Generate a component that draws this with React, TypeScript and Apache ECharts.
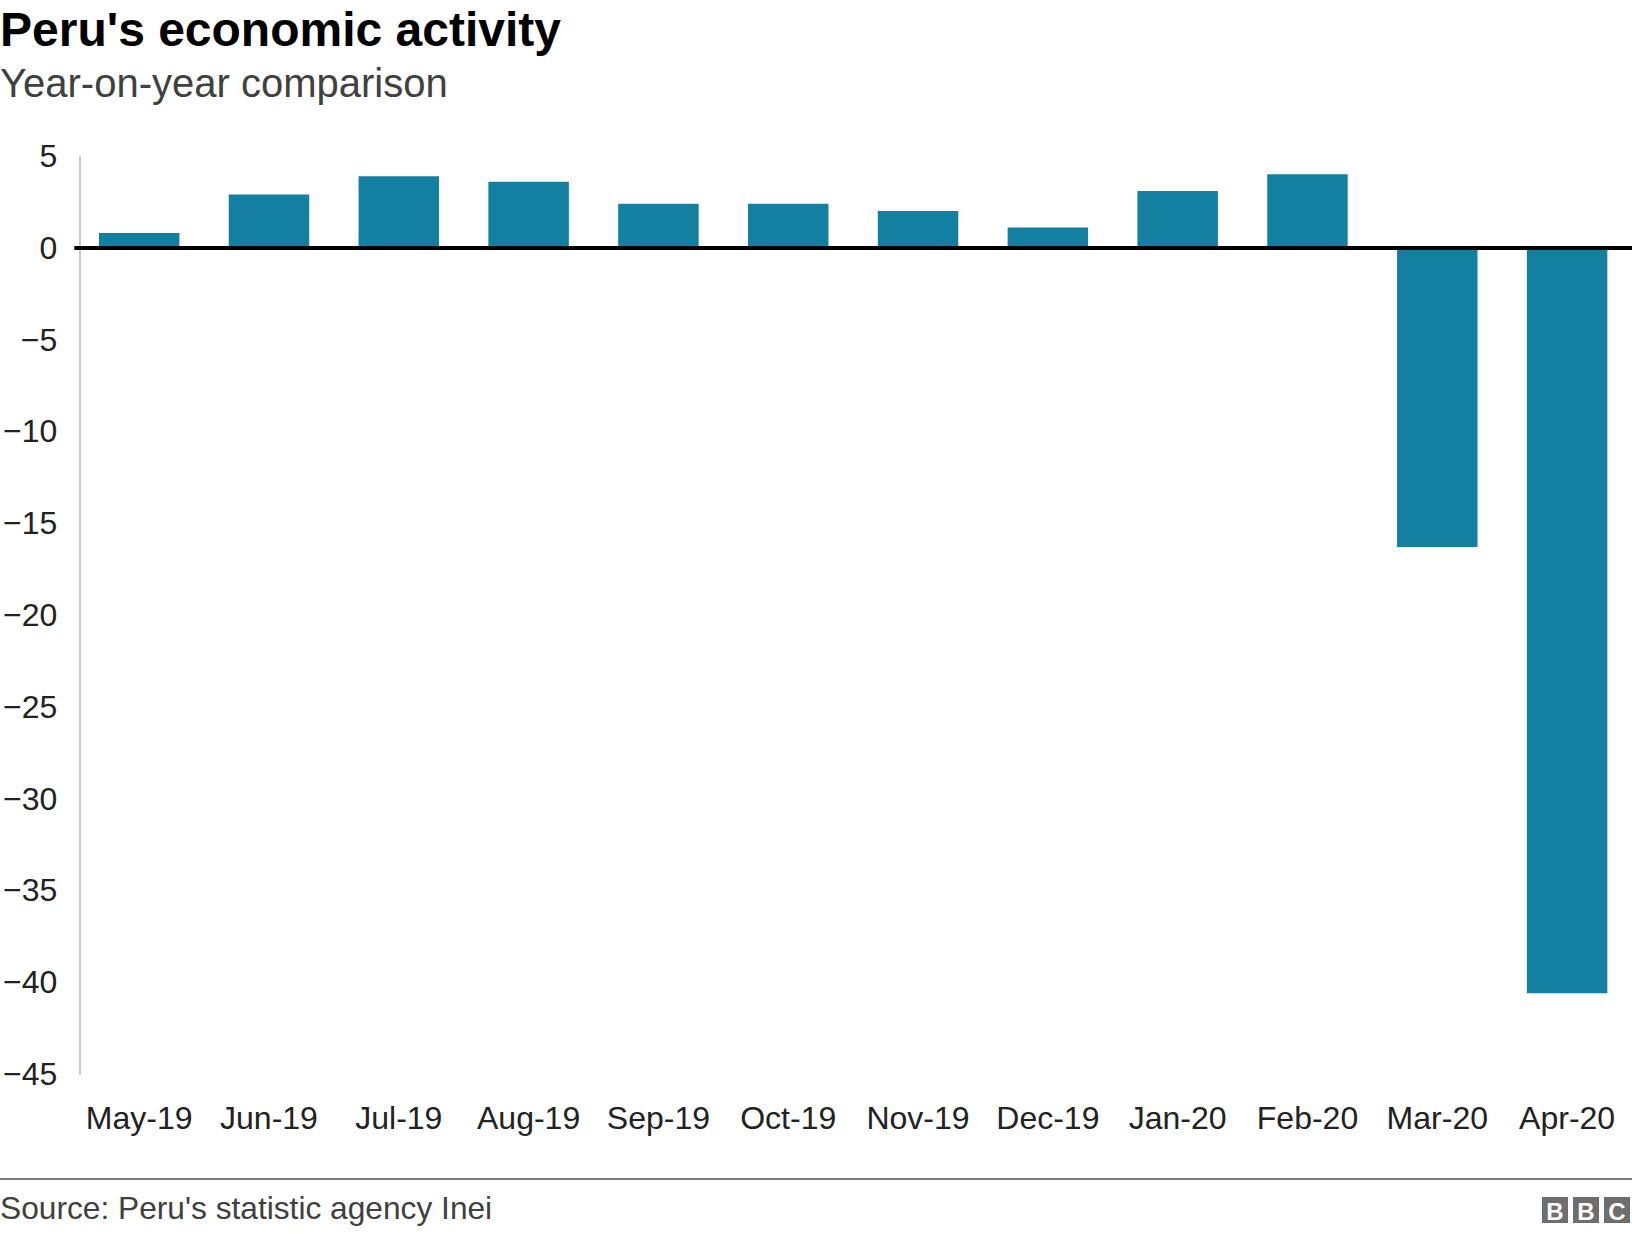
import React, { useEffect, useRef } from 'react';
import * as echarts from 'echarts';

const months = [
  'May-19', 'Jun-19', 'Jul-19', 'Aug-19', 'Sep-19', 'Oct-19',
  'Nov-19', 'Dec-19', 'Jan-20', 'Feb-20', 'Mar-20', 'Apr-20'
];
const activity = [0.8, 2.9, 3.9, 3.6, 2.4, 2.4, 2.0, 1.1, 3.1, 4.0, -16.3, -40.6];
const yTicks = { min: -45, max: 5, step: 5 };

const FONT = '"Liberation Sans", Arial, Helvetica, sans-serif';
const BAR = '#1380a1';

const App: React.FC = () => {
  const chartRef = useRef<HTMLDivElement>(null);

  useEffect(() => {
    if (!chartRef.current) return;
    document.body.style.margin = '0';

    const chart = echarts.init(chartRef.current, undefined, { renderer: 'svg' });

    // BBC blocks in the bottom right corner
    const logo = ['B', 'B', 'C'].flatMap((ch, i) => [
      {
        type: 'rect',
        shape: { x: 1542 + i * 31, y: 1197, width: 26, height: 26 },
        style: { fill: '#6e6e6e' }
      },
      {
        type: 'text',
        x: 1555 + i * 31,
        y: 1211,
        style: {
          text: ch,
          fill: '#fff',
          font: `bold 24px ${FONT}`,
          align: 'center',
          verticalAlign: 'middle'
        }
      }
    ]);

    const options: echarts.EChartsOption = {
      animation: false,
      backgroundColor: '#fff',
      title: [
        {
          text: "Peru's economic activity",
          left: 0,
          top: 5,
          padding: 0,
          textStyle: { fontFamily: FONT, fontSize: 48, fontWeight: 'bold', color: '#000' }
        },
        {
          text: 'Year-on-year comparison',
          left: 0,
          top: 63,
          padding: 0,
          textStyle: { fontFamily: FONT, fontSize: 40, fontWeight: 'normal', color: '#404040' }
        }
      ],
      grid: { left: 70, right: 0, top: 156, bottom: 160, containLabel: false },
      xAxis: {
        type: 'category',
        data: months,
        axisLine: { show: false, onZero: false },
        axisTick: { show: false },
        axisLabel: { interval: 0, fontFamily: FONT, fontSize: 32, color: '#222', margin: 28 }
      },
      yAxis: {
        type: 'value',
        min: yTicks.min,
        max: yTicks.max,
        interval: yTicks.step,
        offset: -5,
        splitLine: { show: false },
        axisTick: { show: false },
        axisLine: { show: true, lineStyle: { color: '#cccccc', width: 2 } },
        axisLabel: {
          fontFamily: FONT,
          fontSize: 32,
          color: '#222',
          margin: 22,
          formatter: (v: number) => (v < 0 ? '\u2212' + Math.abs(v) : String(v))
        }
      },
      series: [
        {
          type: 'bar',
          data: activity,
          barCategoryGap: '38%',
          itemStyle: { color: BAR },
          markLine: {
            silent: true,
            symbol: 'none',
            label: { show: false },
            lineStyle: { color: '#000', width: 4, type: 'solid' },
            data: [{ yAxis: 0 }]
          }
        }
      ],
      graphic: [
        {
          type: 'line',
          shape: { x1: 0, y1: 1179, x2: 1632, y2: 1179 },
          style: { stroke: '#7a7a7a', lineWidth: 2 }
        },
        {
          type: 'text',
          x: 0,
          y: 1208,
          style: {
            text: "Source: Peru's statistic agency Inei",
            fill: '#404040',
            font: `31.7px ${FONT}`,
            verticalAlign: 'middle'
          }
        },
        ...logo
      ] as any
    };

    chart.setOption(options);

    return () => {
      chart.dispose();
    };
  }, []);

  return (
    <div
      ref={chartRef}
      style={{ position: 'absolute', left: 0, top: 0, width: 1632, height: 1234 }}
    />
  );
};

export default App;
